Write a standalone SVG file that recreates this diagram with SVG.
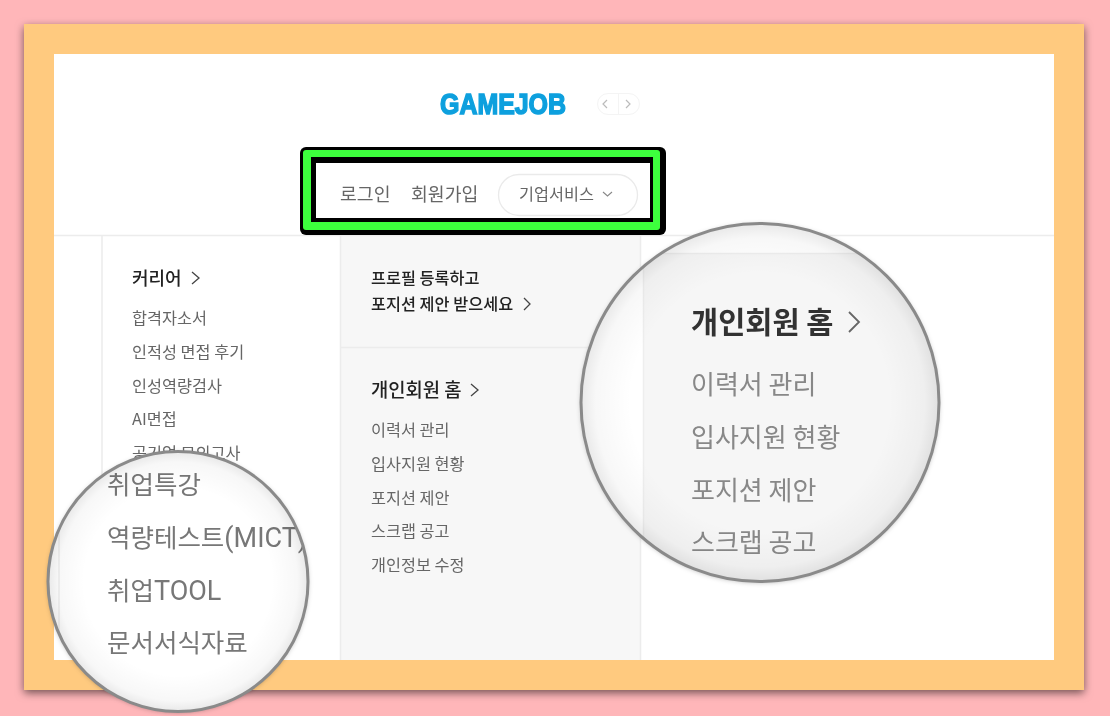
<svg xmlns="http://www.w3.org/2000/svg" width="1110" height="716" viewBox="0 0 1110 716">
<style>
text{font-family:"Noto Sans CJK KR","Noto Sans",sans-serif;filter:url(#soft)}
.h{font-size:18px;font-weight:500;fill:#222}
.p{font-size:16.3px;font-weight:500;fill:#222}
.s{font-size:16.300px;fill:#666}
.n{font-size:18.300px;fill:#666}
.ch{fill:none;stroke:#444;stroke-width:1.3}
.ln{stroke:#ececec;stroke-width:1.5;fill:none}
.lm{font-size:25.500px;fill:#777;filter:url(#soft2)}
.lat{font-family:Roboto,sans-serif;font-size:27px}
.rh{font-size:29.500px;font-weight:700;fill:#333;filter:url(#soft2)}
.rm{font-size:26px;fill:#888;filter:url(#soft2)}
.lens{fill:none;stroke:#8a8a8a;stroke-width:3}
</style>
<defs>
<filter id="soft" x="-5%" y="-20%" width="110%" height="140%"><feGaussianBlur stdDeviation="0.35"/></filter>
<filter id="soft2" x="-5%" y="-20%" width="110%" height="140%"><feGaussianBlur stdDeviation="0.7"/></filter>
<filter id="sh" x="-10%" y="-10%" width="120%" height="120%"><feDropShadow dx="0" dy="3" stdDeviation="4" flood-color="#000" flood-opacity=".55"/></filter>
<filter id="cs" x="-10%" y="-10%" width="120%" height="120%"><feDropShadow dx="0" dy="1" stdDeviation="2.5" flood-color="#000" flood-opacity=".3"/></filter>
<radialGradient id="vig"><stop offset=".72" stop-color="#000" stop-opacity="0"/><stop offset=".92" stop-color="#000" stop-opacity=".03"/><stop offset="1" stop-color="#000" stop-opacity=".09"/></radialGradient>
<clipPath id="cl"><circle cx="178" cy="581.5" r="130"/></clipPath>
<clipPath id="cr"><circle cx="760" cy="402.5" r="179"/></clipPath>
</defs>
<rect width="1110" height="716" fill="#ffb6b9"/>
<rect x="24" y="24" width="1060" height="666" fill="#ffca7f" filter="url(#sh)"/>
<rect x="54" y="54" width="1000" height="606" fill="#fff"/>
<g id="page">
<rect x="341" y="236" width="299" height="424" fill="#f7f7f7"/>
<path class="ln" d="M54 235.500H1054M102 235V660M340.500 235V660M640.500 235V660M341 347.500H640"/>
</g>
<g id="logo">
<text x="440" y="114" font-size="29" style="font-family:'Liberation Sans',sans-serif;font-weight:700" fill="#0aa0de" textLength="126" lengthAdjust="spacingAndGlyphs" stroke="#0aa0de" stroke-width="1.500">GAMEJOB</text>
<rect x="597.500" y="93.500" width="42" height="21" rx="10.500" fill="#fff" stroke="#f4f4f4"/>
<path d="M618.500 94V114" stroke="#f4f4f4"/>
<path d="M607 100L603 104L607 108M626 100L630 104L626 108" fill="none" stroke="#bbb" stroke-width="1.200"/>
</g>
<g id="login-highlight">
<rect x="300" y="147" width="366" height="88" rx="6" fill="#000"/>
<rect x="303" y="150" width="357" height="80" rx="3" fill="#3dff3d"/>
<rect x="311" y="157" width="342" height="65" fill="#000"/>
<rect x="316" y="163" width="334" height="55" fill="#fff"/>
<text class="n" x="340" y="200.500">로그인</text>
<text class="n" x="411" y="200.500">회원가입</text>
<rect x="498.500" y="174.500" width="139" height="41" rx="20.500" fill="#fff" stroke="#eaeaea" stroke-width="1.300"/>
<text class="s" x="519" y="199.500">기업서비스</text>
<path d="M603 192L607.500 196L612 192" fill="none" stroke="#888" stroke-width="1.100"/>
</g>
<g id="col-career">
<text class="h" x="132" y="284.500">커리어</text>
<path class="ch" d="M192 272L199 278L192 284"/>
<text class="s" x="132" y="323.500">합격자소서</text>
<text class="s" x="132" y="357.500">인적성 면접 후기</text>
<text class="s" x="132" y="391.500">인성역량검사</text>
<text class="s" x="132" y="424.500">AI면접</text>
<text class="s" x="132" y="458.500">공기업 모의고사</text>
</g>
<g id="col-profile">
<text class="p" x="371" y="283.500">프로필 등록하고</text>
<text class="p" x="371" y="309.500">포지션 제안 받으세요</text>
<path class="ch" d="M524 298L530 304L524 310"/>
</g>
<g id="col-member">
<text class="h" style="font-size:18.800px" x="371" y="396.500">개인회원 홈</text>
<path class="ch" d="M471 384L478 390L471 396"/>
<text class="s" x="371" y="435.500">이력서 관리</text>
<text class="s" x="371" y="469.500">입사지원 현황</text>
<text class="s" x="371" y="503.500">포지션 제안</text>
<text class="s" x="371" y="536.500">스크랩 공고</text>
<text class="s" x="371" y="570.500">개인정보 수정</text>
</g>
<g id="lens-left">
<circle cx="178" cy="581.500" r="130" fill="#fff" filter="url(#cs)"/>
<g clip-path="url(#cl)">
<path d="M59 451V712" stroke="#eee" stroke-width="1.500"/>
<text class="lm" x="107" y="494">취업특강</text>
<text class="lm" x="107" y="547">역량테스트<tspan class="lat">(MICT)</tspan></text>
<text class="lm" x="107" y="600">취업<tspan class="lat">TOOL</tspan></text>
<text class="lm" x="107" y="652">문서서식자료</text>
</g>
<circle cx="178" cy="581.500" r="130" fill="url(#vig)"/>
<circle class="lens" cx="178" cy="581.500" r="130"/>
</g>
<g id="lens-right">
<circle cx="760" cy="402.500" r="179" fill="#fff" filter="url(#cs)"/>
<g clip-path="url(#cr)">
<rect x="644" y="254" width="310" height="340" fill="#f6f6f6"/>
<path d="M643.500 254V590M644 253.500H950" stroke="#eeeeee" stroke-width="1.500" fill="none"/>
<text class="rh" x="691" y="332.500">개인회원 홈</text>
<path d="M849 312L859 322L849 332" fill="none" stroke="#666" stroke-width="1.800"/>
<text class="rm" x="691" y="394">이력서 관리</text>
<text class="rm" x="691" y="447">입사지원 현황</text>
<text class="rm" x="691" y="500">포지션 제안</text>
<text class="rm" x="691" y="552">스크랩 공고</text>
</g>
<circle cx="760" cy="402.500" r="179" fill="url(#vig)"/>
<circle class="lens" cx="760" cy="402.500" r="179"/>
</g>
</svg>
